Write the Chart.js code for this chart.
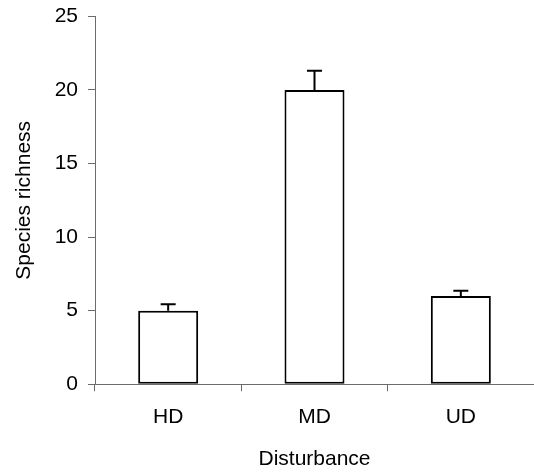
<!DOCTYPE html>
<html>
<head>
<meta charset="utf-8">
<script src="https://cdn.jsdelivr.net/npm/chart.js@4/dist/chart.umd.min.js"></script>
<style>
  html, body { margin: 0; padding: 0; background: #fff; overflow: hidden; }
  #wrap { width: 534px; height: 474px; }
</style>
</head>
<body>
<div id="wrap"><canvas id="myChart"></canvas></div>
<script>
const ctx = document.getElementById('myChart').getContext('2d')

// mean species richness per disturbance level, with standard error
const categories = ['HD', 'MD', 'UD']
const richness = [5, 20, 6]
const stdErr = [0.43, 1.3, 0.36]
const yMin = 0
const yMax = 25
const yStep = 5

const axisGrey = '#6b6b6b'
Chart.defaults.font.family = '"Liberation Sans", Arial, sans-serif'
Chart.defaults.font.size = 21
Chart.defaults.color = '#000'

// upward-only error bars with a small cap
const errorBars = {
    id: 'errorBars',
    afterDatasetsDraw(chart) {
        const meta = chart.getDatasetMeta(0)
        const y = chart.scales.y
        const c = chart.ctx
        c.save()
        c.strokeStyle = '#000'
        c.lineWidth = 2
        meta.data.forEach((bar, i) => {
            const top = y.getPixelForValue(richness[i] + stdErr[i])
            c.beginPath()
            c.moveTo(bar.x, bar.y)
            c.lineTo(bar.x, top)
            c.moveTo(bar.x - 7.5, top)
            c.lineTo(bar.x + 7.5, top)
            c.stroke()
        })
        c.restore()
    }
}

const data = {
    labels: categories,
    datasets: [
        {
            data: richness,
            backgroundColor: '#fff',
            borderColor: '#000',
            borderWidth: 2,
            borderSkipped: false,
            barPercentage: 0.41,
            categoryPercentage: 1,
        }
    ],
}

const config = {
    type: 'bar',
    data: data,
    plugins: [errorBars],
    options: {
        responsive: true,
        maintainAspectRatio: false,
        animation: false,
        layout: {
            padding: { top: 16.3, right: -3, bottom: 0, left: 0 }
        },
        plugins: {
            legend: { display: false },
            tooltip: { enabled: false },
        },
        scales: {
            x: {
                afterFit: (scale) => { scale.height = 89.7 },
                grid: {
                    offset: true,
                    drawOnChartArea: false,
                    drawTicks: true,
                    tickLength: 7,
                    color: axisGrey,
                },
                border: { display: true, color: axisGrey, width: 1 },
                ticks: { padding: 13, color: '#000' },
                title: {
                    display: true,
                    text: 'Disturbance',
                    font: { size: 21, lineHeight: 1 },
                    padding: { top: 0, bottom: 4 },
                },
            },
            y: {
                min: yMin,
                max: yMax,
                afterFit: (scale) => {
                    scale.width = 95
                    // let the top tick label overhang instead of pushing the plot down
                    scale.paddingTop = 0
                    scale.paddingBottom = 0
                },
                grid: {
                    drawOnChartArea: false,
                    drawTicks: true,
                    tickLength: 7,
                    color: axisGrey,
                },
                border: { display: true, color: axisGrey, width: 1 },
                ticks: { stepSize: yStep, padding: 10, color: '#000' },
                title: {
                    display: true,
                    text: 'Species richness',
                    font: { size: 21, lineHeight: 1 },
                    padding: { top: 13.5, bottom: 0 },
                },
            },
        }
    }
};

const myChart = new Chart(ctx, config)
</script>
</body>
</html>
